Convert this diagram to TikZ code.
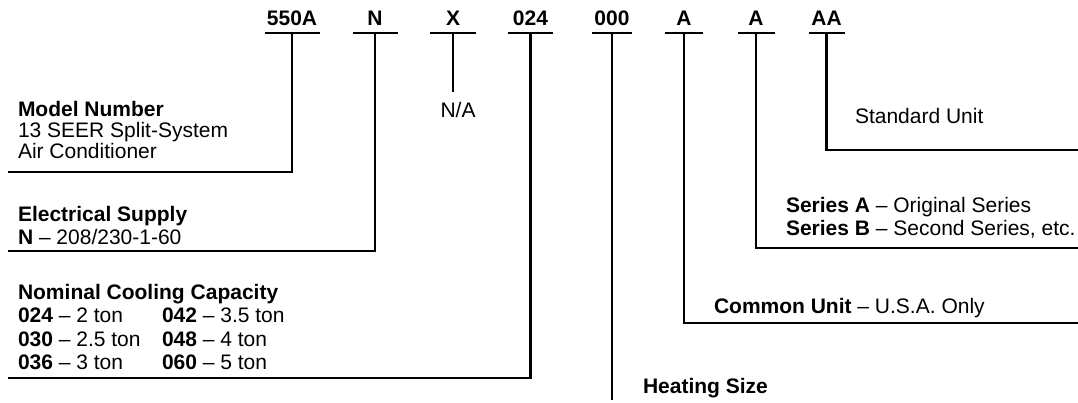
\documentclass[tikz,border=0pt]{standalone}
\usepackage{fontspec}
\setmainfont{Liberation Sans}
\begin{document}
\begin{tikzpicture}[x=1pt,y=-1pt,
  txt/.style={inner sep=0pt, outer sep=0pt, anchor=base west, font=\fontsize{21}{22}\selectfont},
  code/.style={inner sep=0pt, outer sep=0pt, anchor=base, font=\fontsize{21}{22}\selectfont\bfseries},
  bar/.style={line width=2.6pt},
  conn/.style={line width=2.4pt, line join=miter}]
\useasboundingbox (0,0) rectangle (1078,402);

% top code labels
\node[code] (c1) at (292,25) {550A};
\node[code] (c2) at (375,25) {N};
\node[code] (c3) at (453,25) {X};
\node[code] (c4) at (530.5,25) {024};
\node[code] (c5) at (612,25) {000};
\node[code] (c6) at (684,25) {A};
\node[code] (c7) at (756,25) {A};
\node[code] (c8) at (826.5,25) {AA};

% bar centres
\coordinate (t1) at (292,33);
\coordinate (t2) at (375,33);
\coordinate (t3) at (453,33);
\coordinate (t4) at (530.5,33);
\coordinate (t5) at (612,33);
\coordinate (t6) at (684,33);
\coordinate (t7) at (756,33);
\coordinate (t8) at (826.5,33);

\draw[bar] ([xshift=-27.5pt]t1) -- ([xshift=27.5pt]t1);
\draw[bar] ([xshift=-22.5pt]t2) -- ([xshift=22.5pt]t2);
\draw[bar] ([xshift=-23pt]t3) -- ([xshift=23pt]t3);
\draw[bar] ([xshift=-22.5pt]t4) -- ([xshift=22.5pt]t4);
\draw[bar] ([xshift=-20pt]t5) -- ([xshift=20pt]t5);
\draw[bar] ([xshift=-19pt]t6) -- ([xshift=19pt]t6);
\draw[bar] ([xshift=-18.5pt]t7) -- ([xshift=18.5pt]t7);
\draw[bar] ([xshift=-18pt]t8) -- ([xshift=18pt]t8);

% connector ends
\coordinate (e1) at (8,172);
\coordinate (e2) at (8,251);
\coordinate (e3) at (453,92);
\coordinate (e4) at (8,378);
\coordinate (e5) at (612,400);
\coordinate (e6) at (1078,323);
\coordinate (e7) at (1078,248);
\coordinate (e8) at (1078,150);

\draw[conn] (t1) |- (e1);
\draw[conn] (t2) |- (e2);
\draw[conn] (t3) -- (e3);
\draw[conn] (t4) |- (e4);
\draw[conn] (t5) -- (e5);
\draw[conn] (t6) |- (e6);
\draw[conn] (t7) |- (e7);
\draw[conn] (t8) |- (e8);

% texts
\node[txt] (mn1) at (18,116) {\bfseries Model Number};
\node[txt] (mn2) at (18,137) {13 SEER Split-System};
\node[txt] (mn3) at (18,158) {Air Conditioner};

\node[code, font=\fontsize{21}{22}\selectfont] (na) at (458,117) {N/A};

\node[txt] (es1) at (18,221) {\bfseries Electrical Supply};
\node[txt] (es2) at (18,244) {\textbf{N} -- 208/230-1-60};

\node[txt] (nc1) at (18,299) {\bfseries Nominal Cooling Capacity};
\node[txt] (nc2) at (18,322) {\textbf{024} -- 2 ton};
\node[txt] (nc3) at (18,346) {\textbf{030} -- 2.5 ton};
\node[txt] (nc4) at (18,369) {\textbf{036} -- 3 ton};
\node[txt] (nc5) at (162,322) {\textbf{042} -- 3.5 ton};
\node[txt] (nc6) at (162,346) {\textbf{048} -- 4 ton};
\node[txt] (nc7) at (162,369) {\textbf{060} -- 5 ton};

\node[txt] (su) at (855,123) {Standard Unit};
\node[txt] (sa) at (786,212) {\textbf{Series A} -- Original Series};
\node[txt] (sb) at (786,235) {\textbf{Series B} -- Second Series, etc.};
\node[txt] (cu) at (714,313) {\textbf{Common Unit} -- U.S.A. Only};
\node[txt] (hs) at (643,393) {\bfseries Heating Size};
\end{tikzpicture}
\end{document}
